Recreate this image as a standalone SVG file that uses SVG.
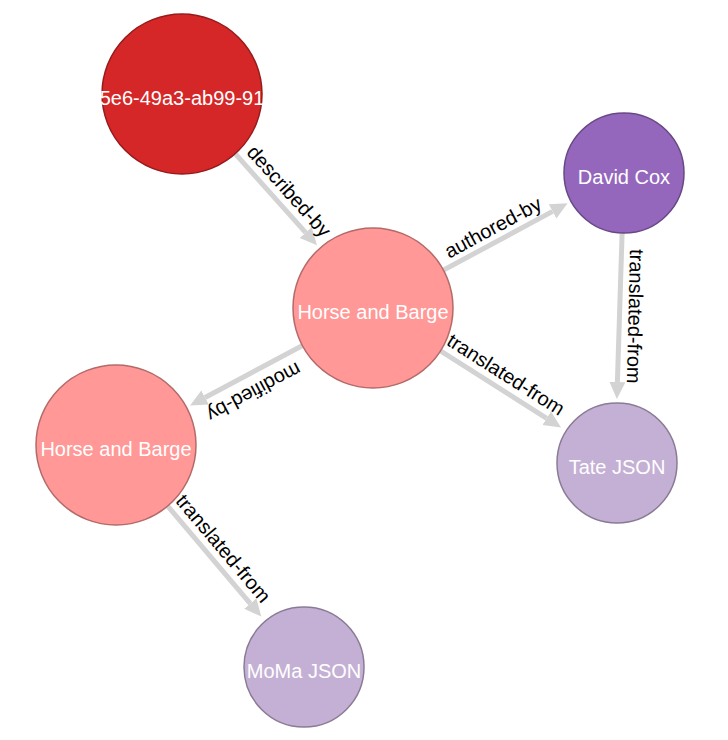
<svg xmlns="http://www.w3.org/2000/svg" width="728" height="740" viewBox="0 0 728 740">
<style>
  .edge { stroke: #d3d3d3; stroke-width: 5; fill: none; }
  .elabel { font-family: "Liberation Sans", Arial, Helvetica, sans-serif; font-size: 20px; fill: #000; text-anchor: middle; }
  .nlabel { font-family: "Liberation Sans", Arial, Helvetica, sans-serif; font-size: 20px; fill: #fff; text-anchor: middle; }
  .n-red { fill: #d62728; stroke: #961b1c; stroke-width: 1.5; }
  .n-pink { fill: #ff9896; stroke: #b36a69; stroke-width: 1.5; }
  .n-purple { fill: #9467bd; stroke: #684884; stroke-width: 1.5; }
  .n-lpurple { fill: #c5b0d5; stroke: #8a7b95; stroke-width: 1.5; }
</style>
<defs>
  <marker id="arrow" markerUnits="userSpaceOnUse" markerWidth="18" markerHeight="18" viewBox="0 -9 18 18" refX="0" refY="0" orient="auto">
    <path d="M0,-8 L17,0 L0,8 Z" fill="#d3d3d3"/>
  </marker>
</defs>

<g id="connectors">
  <!-- described-by: red (182,94) -> HB (373,308) -->
  <g id="e-described-by">
    <line class="edge" x1="182" y1="94" x2="305.7" y2="232.6" marker-end="url(#arrow)"/>
    <g transform="translate(278,201) rotate(48.25)"><text class="elabel" x="0" y="-8">described-by</text></g>
  </g>
  <!-- authored-by: HB (373,308) -> DC (624,173) -->
  <g id="e-authored-by">
    <line class="edge" x1="373" y1="308" x2="552.6" y2="211.4" marker-end="url(#arrow)"/>
    <g transform="translate(500,240.5) rotate(-28.27)"><text class="elabel" x="0" y="-8">authored-by</text></g>
  </g>
  <!-- translated-from: DC (624,173) -> Tate (617,463) -->
  <g id="e-dc-tate">
    <line class="edge" x1="624" y1="173" x2="617.4" y2="382" marker-end="url(#arrow)"/>
    <g transform="translate(620.5,316) rotate(91.38)"><text class="elabel" x="0" y="-8">translated-from</text></g>
  </g>
  <!-- translated-from: HB (373,308) -> Tate (617,463) -->
  <g id="e-hb-tate">
    <line class="edge" x1="373" y1="308" x2="546.7" y2="418.3" marker-end="url(#arrow)"/>
    <g transform="translate(498,387) rotate(32.43)"><text class="elabel" x="0" y="-8">translated-from</text></g>
  </g>
  <!-- modified-by: HB (373,308) -> HB2 (116,445) -->
  <g id="e-modified-by">
    <line class="edge" x1="373" y1="308" x2="205.1" y2="397.5" marker-end="url(#arrow)"/>
    <g transform="translate(247,379) rotate(151.94)"><text class="elabel" x="0" y="-8">modified-by</text></g>
  </g>
  <!-- translated-from: HB2 (116,445) -> MoMa (304,667) -->
  <g id="e-hb2-moma">
    <line class="edge" x1="116" y1="445" x2="250.3" y2="603.6" marker-end="url(#arrow)"/>
    <g transform="translate(212,558) rotate(49.74)"><text class="elabel" x="0" y="-8">translated-from</text></g>
  </g>
</g>

<g id="node-uuid">
  <circle class="n-red" cx="182" cy="94" r="80"/>
  <text class="nlabel" x="182" y="105">5e6-49a3-ab99-91</text>
</g>
<g id="node-horse-and-barge-1">
  <circle class="n-pink" cx="373" cy="308" r="80"/>
  <text class="nlabel" x="373" y="319">Horse and Barge</text>
</g>
<g id="node-david-cox">
  <circle class="n-purple" cx="624" cy="173" r="60"/>
  <text class="nlabel" x="624" y="184">David Cox</text>
</g>
<g id="node-tate-json">
  <circle class="n-lpurple" cx="617" cy="463" r="60"/>
  <text class="nlabel" x="617" y="474">Tate JSON</text>
</g>
<g id="node-horse-and-barge-2">
  <circle class="n-pink" cx="116" cy="445" r="80"/>
  <text class="nlabel" x="116" y="456">Horse and Barge</text>
</g>
<g id="node-moma-json">
  <circle class="n-lpurple" cx="304" cy="667" r="60"/>
  <text class="nlabel" x="304" y="678">MoMa JSON</text>
</g>
</svg>
